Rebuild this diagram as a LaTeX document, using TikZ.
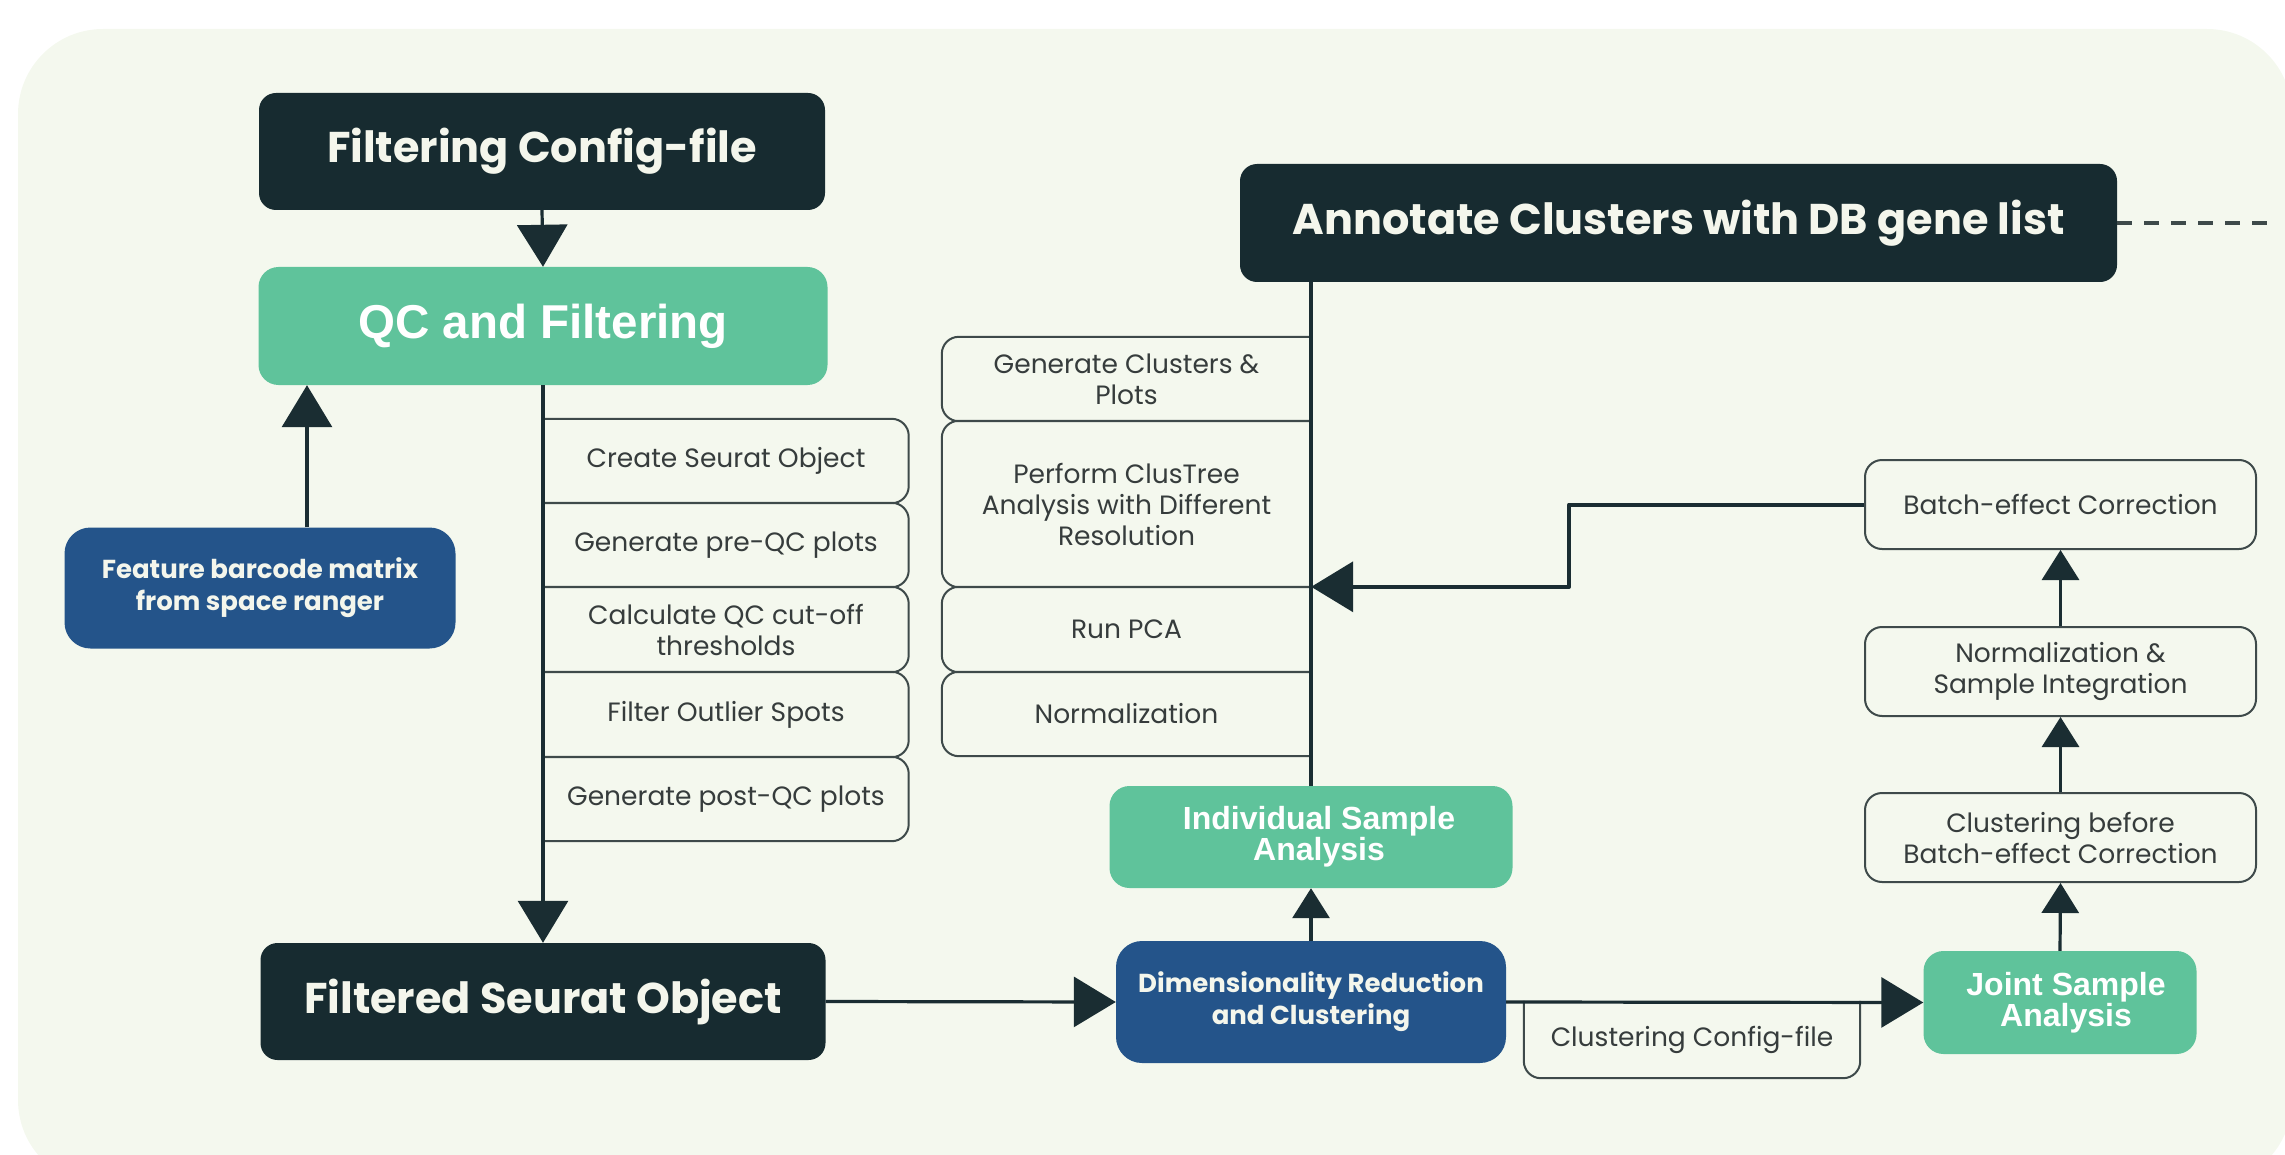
\documentclass[tikz,border=0pt]{standalone}
\usepackage{fontspec}
\setmainfont{Poppins}
\newfontfamily\arialfont{Liberation Sans}
\usetikzlibrary{arrows.meta}
\definecolor{bgcream}{HTML}{F4F8EE}
\definecolor{darkbox}{HTML}{172B30}
\definecolor{greenbox}{HTML}{5FC39B}
\definecolor{bluebox}{HTML}{24548A}
\definecolor{edgeline}{HTML}{1A2D32}
\definecolor{stepgray}{HTML}{3E4A4A}
\definecolor{steptext}{HTML}{363C3C}
\definecolor{titlewhite}{HTML}{F4F6EC}
\begin{document}
\begin{tikzpicture}[x=1pt, y=-1pt, line join=round,
    darknode/.style={fill=darkbox, text=titlewhite, rounded corners=17pt, inner sep=0pt,
      font=\fontsize{43}{46}\selectfont\bfseries},
    greennode/.style={fill=greenbox, text=white, rounded corners=20pt, inner sep=0pt, align=center,
      font=\arialfont\fontsize{32}{31}\selectfont\bfseries},
    bluenode/.style={fill=bluebox, text=titlewhite, rounded corners=26pt, inner sep=0pt, align=center,
      font=\fontsize{26}{32}\selectfont\bfseries},
    stepnode/.style={text=steptext, inner sep=0pt, align=center,
      font=\fontsize{26.5}{31}\selectfont},
    stepline/.style={draw=stepgray, line width=2pt, rounded corners=17pt},
    flow/.style={draw=edgeline, line width=3.2pt},
    bigtip/.style={-{Triangle[length=42pt,width=50pt]}},
    smalltip/.style={-{Triangle[length=30pt,width=37pt]}}]
  \useasboundingbox (0,0) rectangle (2285,1155);
  \clip (0,0) rectangle (2285,1155);
  \fill[bgcream, rounded corners=85pt] (18,29) rectangle (2292,1185);

  % main boxes
  \node[darknode, minimum width=566pt, minimum height=117pt] (fcfg) at (542,151.5) {Filtering Config-file};
  \node[greennode, minimum width=569pt, minimum height=118pt, font=\arialfont\fontsize{47.5}{46}\selectfont\bfseries] (qc) at (543,326) {QC and Filtering};
  \node[bluenode, minimum width=391pt, minimum height=121pt] (feat) at (260,588) {Feature barcode matrix\\from space ranger};
  \node[darknode, minimum width=565pt, minimum height=117pt] (filt) at (543,1001.5) {Filtered Seurat Object};
  \node[bluenode, minimum width=390pt, minimum height=122pt] (dim) at (1311,1002) {Dimensionality Reduction\\and Clustering};
  \node[greennode, minimum width=403pt, minimum height=102pt] (ind) at (1311,837) {\hspace*{16pt}Individual Sample\\\hspace*{16pt}Analysis};
  \node[darknode, minimum width=877pt, minimum height=118pt] (ann) at (1678.5,223) {Annotate Clusters with DB gene list};
  \node[greennode, minimum width=273pt, minimum height=103pt] (joint) at (2060,1002.5) {\hspace*{12pt}Joint Sample\\\hspace*{12pt}Analysis};

  % QC steps
  \node[stepnode, minimum width=365pt, minimum height=84pt] (crt) at (726,461) {Create Seurat Object};
  \node[stepnode, minimum width=365pt, minimum height=84pt] (preqc) at (726,545) {Generate pre-QC plots};
  \node[stepnode, minimum width=365pt, minimum height=85pt] (cutoff) at (726,629.5) {Calculate QC cut-off\\thresholds};
  \node[stepnode, minimum width=365pt, minimum height=85pt] (outl) at (726,714.5) {Filter Outlier Spots};
  \node[stepnode, minimum width=365pt, minimum height=84pt] (postqc) at (726,799) {Generate post-QC plots};
  \draw[stepline] (crt.north west) -- (crt.north east) -- (crt.south east) -- (crt.south west);
  \draw[stepline] (preqc.north west) -- (preqc.north east) -- (preqc.south east) -- (preqc.south west);
  \draw[stepline] (cutoff.north west) -- (cutoff.north east) -- (cutoff.south east) -- (cutoff.south west);
  \draw[stepline] (outl.north west) -- (outl.north east) -- (outl.south east) -- (outl.south west);
  \draw[stepline] (postqc.north west) -- (postqc.north east) -- (postqc.south east) -- (postqc.south west);

  % clustering steps
  \node[stepnode, minimum width=369pt, minimum height=84pt] (gencl) at (1126.5,379) {Generate Clusters \&\\Plots};
  \node[stepnode, minimum width=369pt, minimum height=166pt] (clustree) at (1126.5,504) {Perform ClusTree\\Analysis with Different\\Resolution};
  \node[stepnode, minimum width=369pt, minimum height=85pt] (pca) at (1126.5,629.5) {Run PCA};
  \node[stepnode, minimum width=369pt, minimum height=84pt] (normi) at (1126.5,714) {Normalization};
  \draw[stepline] (gencl.north east) -- (gencl.north west) -- (gencl.south west) -- (gencl.south east);
  \draw[stepline] (clustree.north east) -- (clustree.north west) -- (clustree.south west) -- (clustree.south east);
  \draw[stepline] (pca.north east) -- (pca.north west) -- (pca.south west) -- (pca.south east);
  \draw[stepline] (normi.north east) -- (normi.north west) -- (normi.south west) -- (normi.south east);

  % joint analysis steps
  \node[stepnode, stepline, minimum width=391pt, minimum height=89pt] (clusb) at (2060.5,837.5) {Clustering before\\Batch-effect Correction};
  \node[stepnode, stepline, minimum width=391pt, minimum height=89pt] (norm) at (2060.5,671.5) {Normalization \&\\Sample Integration};
  \node[stepnode, stepline, minimum width=391pt, minimum height=89pt] (batch) at (2060.5,504.5) {Batch-effect Correction};
  \node[stepnode, minimum width=336pt, minimum height=77pt] (ccfg) at (1692,1039.5) {Clustering Config-file};
  \draw[stepline] (ccfg.north west) -- (ccfg.south west) -- (ccfg.south east) -- (ccfg.north east);

  % connectors
  \draw[flow, bigtip] (fcfg.south) -- (qc.north);
  \draw[flow, bigtip] ([xshift=47pt]feat.north) -- ([xshift=47pt]feat.north |- qc.south);
  \draw[flow, bigtip] (qc.south) -- (filt.north);
  \draw[flow, bigtip] (filt.east) -- (dim.west);
  \draw[flow, smalltip] (dim.north) -- (ind.south);
  \draw[flow] (ind.north) -- (ind.north |- ann.south);
  \draw[flow, bigtip] (dim.east) -- (joint.west);
  \draw[flow, smalltip] (joint.north) -- (clusb.south);
  \draw[flow, smalltip] (clusb.north) -- (norm.south);
  \draw[flow, smalltip] (norm.north) -- (batch.south);
  \draw[flow, line width=4pt, bigtip] (batch.west) -- ++(-295,0) |- (pca.north east);
  \coordinate (dashend) at (2268,223);
  \draw[draw=stepgray, line width=3.5pt, dash pattern=on 15pt off 12pt] (ann.east) -- (dashend);
\end{tikzpicture}
\end{document}
